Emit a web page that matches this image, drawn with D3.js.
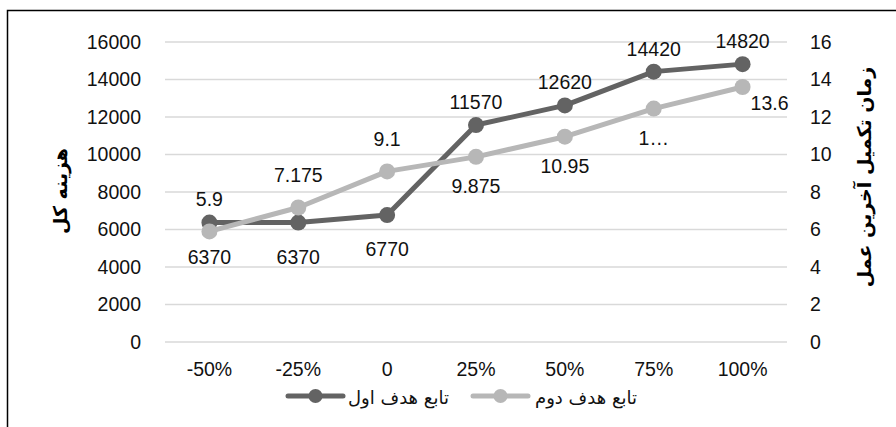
<!DOCTYPE html>
<html>
<head>
<meta charset="utf-8">
<script src="https://cdn.jsdelivr.net/npm/d3@7"></script>
<style>
  body { margin: 0; background: #fff; }
  svg { display: block; }
</style>
</head>
<body>
<div id="chart"></div>
<script>
// data
const categories = ['-50%', '-25%', '0', '25%', '50%', '75%', '100%'];
const costValues = [6370, 6370, 6770, 11570, 12620, 14420, 14820];
const timeValues = [5.9, 7.175, 9.1, 9.875, 10.95, 12.45, 13.6];
const timeLabels = ['5.9', '7.175', '9.1', '9.875', '10.95', '1…', '13.6'];
const costTicks = [0, 2000, 4000, 6000, 8000, 10000, 12000, 14000, 16000];
const timeTicks = [0, 2, 4, 6, 8, 10, 12, 14, 16];
const seriesNames = ['تابع هدف اول', 'تابع هدف دوم'];
const costTitle = 'هزینه کل';
const timeTitle = 'زمان تکمیل آخرین عمل';
// where each data label sits relative to its point
const costLabelSide = ['below', 'below', 'below', 'above', 'above', 'above', 'above'];
const timeLabelSide = ['above', 'above', 'above', 'below', 'below', 'below', 'right'];

const W = 896, H = 427;
const margin = {top: 42, left: 165, right: 109, bottom: 85};
const width = W - margin.left - margin.right,
  height = H - margin.top - margin.bottom;

const darkColor = '#636363', lightColor = '#b7b7b7';
const numFont = '"Liberation Sans", Arial, sans-serif';

const svg = d3.select('#chart')
  .append('svg')
  .attr('width', W)
  .attr('height', H);

// chart frame (left and top edges visible in the crop)
svg.append('path')
  .attr('d', 'M7.5,' + H + 'V10.5H' + W)
  .attr('fill', 'none')
  .attr('stroke', '#000')
  .attr('stroke-width', 1.5);

const g = svg.append('g')
  .attr('transform', 'translate(' + margin.left + ',' + margin.top + ')');

const x = d3.scaleBand()
  .domain(categories)
  .range([0, width])
  .padding(0);

const yCost = d3.scaleLinear().domain([0, 16000]).range([height, 0]);
const yTime = d3.scaleLinear().domain([0, 16]).range([height, 0]);

// gridlines
g.append('g')
  .selectAll('line')
  .data(costTicks)
  .enter()
  .append('line')
  .attr('x1', 0)
  .attr('x2', width)
  .attr('y1', d => yCost(d))
  .attr('y2', d => yCost(d))
  .attr('stroke', '#d9d9d9')
  .attr('stroke-width', 1.5);

function styleAxis(sel) {
  sel.select('.domain').remove();
  sel.selectAll('text')
    .attr('font-family', numFont)
    .attr('font-size', 19.5)
    .attr('fill', '#111');
}

// left axis
g.append('g')
  .attr('transform', 'translate(-24,0)')
  .call(d3.axisLeft(yCost).tickValues(costTicks).tickFormat(d3.format('d')).tickSize(0).tickPadding(0))
  .call(styleAxis);

// right axis
g.append('g')
  .attr('transform', 'translate(' + (width + 23) + ',0)')
  .call(d3.axisRight(yTime).tickValues(timeTicks).tickFormat(d3.format('d')).tickSize(0).tickPadding(0))
  .call(styleAxis);

// bottom axis
g.append('g')
  .attr('transform', 'translate(0,' + (height + 20) + ')')
  .call(d3.axisBottom(x).tickSize(0).tickPadding(0))
  .call(styleAxis);

// axis titles
svg.append('text')
  .attr('transform', 'translate(60,191) rotate(-90)')
  .attr('text-anchor', 'middle')
  .attr('dominant-baseline', 'central')
  .attr('font-family', '"DejaVu Sans", sans-serif')
  .attr('font-weight', 'bold')
  .attr('font-size', 19)
  .text(costTitle);

svg.append('text')
  .attr('transform', 'translate(864,177) rotate(-90)')
  .attr('text-anchor', 'middle')
  .attr('dominant-baseline', 'central')
  .attr('font-family', '"DejaVu Sans", sans-serif')
  .attr('font-weight', 'bold')
  .attr('font-size', 19)
  .text(timeTitle);

const cx = d => x(d) + x.bandwidth() / 2;

function drawSeries(values, yScale, color) {
  const line = d3.line()
    .x((d, i) => cx(categories[i]))
    .y(d => yScale(d));
  g.append('path')
    .datum(values)
    .attr('d', line)
    .attr('fill', 'none')
    .attr('stroke', color)
    .attr('stroke-width', 5)
    .attr('stroke-linejoin', 'round');
  g.append('g')
    .selectAll('circle')
    .data(values)
    .enter()
    .append('circle')
    .attr('cx', (d, i) => cx(categories[i]))
    .attr('cy', d => yScale(d))
    .attr('r', 8)
    .attr('fill', color);
}

function drawLabels(values, yScale, texts, sides, aboveDy, belowDy) {
  g.append('g')
    .selectAll('text')
    .data(values)
    .enter()
    .append('text')
    .attr('x', (d, i) => cx(categories[i]) + (sides[i] === 'right' ? 27 : 0))
    .attr('y', (d, i) => yScale(d) + (sides[i] === 'above' ? aboveDy : sides[i] === 'below' ? belowDy : 16))
    .attr('text-anchor', 'middle')
    .attr('dominant-baseline', 'central')
    .attr('font-family', numFont)
    .attr('font-size', 19.5)
    .attr('fill', '#111')
    .text((d, i) => texts[i]);
}

drawSeries(costValues, yCost, darkColor);
drawSeries(timeValues, yTime, lightColor);

drawLabels(costValues, yCost, costValues.map(String), costLabelSide, -23, 34);
drawLabels(timeValues, yTime, timeLabels, timeLabelSide, -32, 29);

// legend
const legendItems = [
  {name: seriesNames[0], color: darkColor, x0: 288, x1: 343, tx: 348},
  {name: seriesNames[1], color: lightColor, x0: 473, x1: 528, tx: 535}
];
const legend = svg.append('g');
legendItems.forEach(function(d) {
  legend.append('line')
    .attr('x1', d.x0).attr('x2', d.x1)
    .attr('y1', 396).attr('y2', 396)
    .attr('stroke', d.color)
    .attr('stroke-width', 5)
    .attr('stroke-linecap', 'round');
  legend.append('circle')
    .attr('cx', (d.x0 + d.x1) / 2)
    .attr('cy', 396)
    .attr('r', 7)
    .attr('fill', d.color);
  legend.append('text')
    .attr('x', d.tx)
    .attr('y', 397)
    .attr('dominant-baseline', 'central')
    .attr('font-family', '"DejaVu Serif", "DejaVu Sans", serif')
    .attr('font-size', 18)
    .attr('fill', '#111')
    .text(d.name);
});
</script>
</body>
</html>
